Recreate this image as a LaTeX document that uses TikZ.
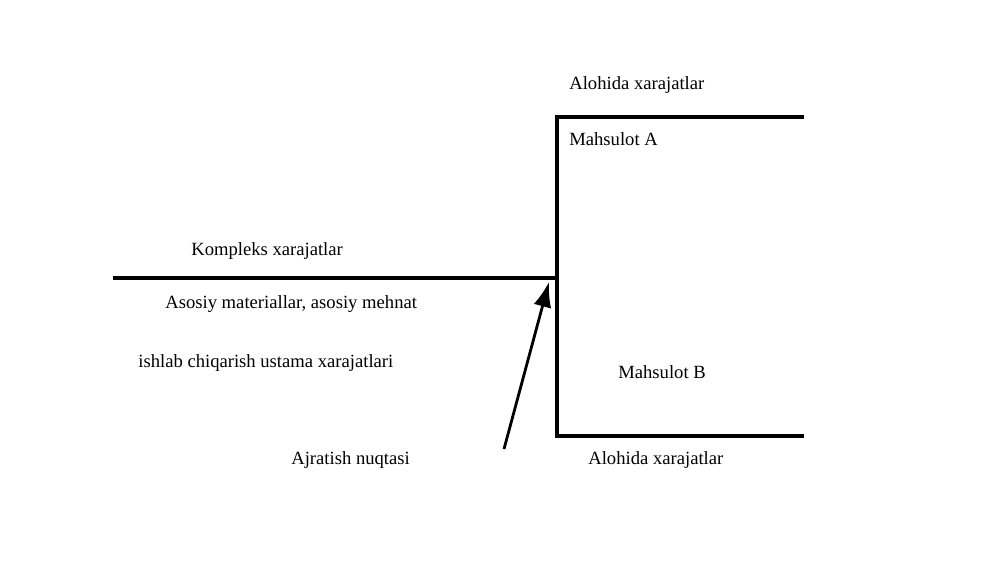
\documentclass[tikz,border=0pt]{standalone}
\usepackage{tikz}
\usetikzlibrary{arrows.meta}
\usetikzlibrary{positioning}
\usepackage{fontspec}
\setmainfont{Liberation Serif}

\begin{document}
\begin{tikzpicture}[x=0.02cm, y=-0.02cm,
        label/.style={anchor=base west, inner sep=0pt, font=\fontsize{10.6}{12.7}\selectfont},
        branch/.style={line width=2pt, line cap=rect},
        pointer/.style={line width=1.6pt, -{Latex[length=5mm, width=3.6mm]}}]
            \useasboundingbox                                             (0, 0) rectangle (1000, 562);
            \coordinate (kstart)                                          at (115, 278);
            \coordinate (split)                                           at (557, 278);
            \coordinate (atop)                                            at (557, 117);
            \coordinate (aend)                                            at (802, 117);
            \coordinate (bbot)                                            at (557, 436);
            \coordinate (bend)                                            at (802, 436);
            \coordinate (ptail)                                           at (504, 449);
            \coordinate (ptip)                                            at (549, 282);
            \draw[branch]                                                 (kstart) -- (split);
            \draw[branch]                                                 (aend) -- (atop) -- (bbot) -- (bend);
            \draw[pointer]                                                (ptail) -- (ptip);
            \node[label] (alohidaA)                                       at (569,  89) {Alohida xarajatlar};
            \node[label] (mahsulotA)                                      at (569, 145) {Mahsulot A};
            \node[label] (kompleks)                                       at (191, 255) {Kompleks xarajatlar};
            \node[label] (asosiy)                                         at (165, 308) {Asosiy materiallar, asosiy mehnat};
            \node[label] (ustama)                                         at (138, 367) {ishlab chiqarish ustama xarajatlari};
            \node[label] (mahsulotB)                                      at (618, 378) {Mahsulot B};
            \node[label] (ajratish)                                       at (291, 464) {Ajratish nuqtasi};
            \node[label] (alohidaB)                                       at (588, 464) {Alohida xarajatlar};
\end{tikzpicture}
\end{document}
